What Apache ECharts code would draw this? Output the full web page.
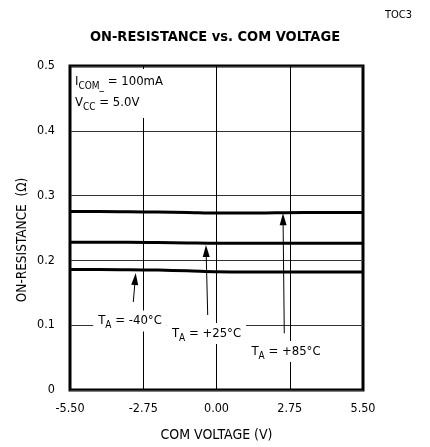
<!DOCTYPE html>
<html>
<head>
<meta charset="utf-8">
<script src="https://cdn.jsdelivr.net/npm/echarts@6/dist/echarts.min.js"></script>
<style>html,body{margin:0;padding:0;background:#fff}#c{width:430px;height:447px}</style>
</head>
<body>
<div id="c"></div>
<script>
const FONT = '"DejaVu Sans Condensed",sans-serif';
const comVoltage = [-5.5, -4.4, -3.3, -2.2, -1.1, 0, 1.1, 2.2, 3.3, 4.4, 5.5];
const ronMinus40 = [0.186, 0.186, 0.1855, 0.185, 0.184, 0.1825, 0.182, 0.182, 0.182, 0.182, 0.182];
const ronPlus25  = [0.228, 0.228, 0.228, 0.2275, 0.227, 0.2265, 0.2265, 0.2265, 0.2265, 0.2265, 0.2265];
const ronPlus85  = [0.2755, 0.2755, 0.275, 0.2745, 0.274, 0.273, 0.273, 0.2735, 0.274, 0.274, 0.274];
const xTickLabels = ['-5.50', '-2.75', '0.00', '2.75', '5.50'];
const yTickLabels = ['0', '0.1', '0.2', '0.3', '0.4', '0.5'];
const tempLabels = ['-40°C', '+25°C', '+85°C'];
// annotation anchors (data units)
const labelAnchors = [[-3.247, 0.1065], [-0.375, 0.0872], [2.609, 0.0594]];
const arrowFrom = [[-3.124, 0.1358], [-0.330, 0.1157], [2.545, 0.0875]];
const arrowTo = [[-3.052, 0.1713], [-0.390, 0.2145], [2.499, 0.2634]];

const rich = {
  m: { fontSize: 13, lineHeight: 21, fontFamily: FONT, color: '#000' },
  s: { fontSize: 10, lineHeight: 10, padding: [9, 0, 0, 0], fontFamily: FONT, color: '#000' }
};
function toPairs(xs, ys) { return xs.map((x, i) => [x, ys[i]]); }

const chart = echarts.init(document.getElementById('c'), null, { renderer: 'canvas' });
const lineSeries = (name, vals) => ({
  name, type: 'line', data: toPairs(comVoltage, vals), showSymbol: false, symbol: 'none',
  smooth: 0.3, lineStyle: { color: '#000', width: 3 }, z: 3, silent: true
});
const s1 = lineSeries('-40', ronMinus40);
s1.markLine = {
  silent: true, symbol: ['none', 'path://M3.5,0L7,12L0,12Z'], symbolSize: 12, symbolKeepAspect: true,
  label: { show: false }, lineStyle: { color: '#000', width: 1, type: 'solid' },
  itemStyle: { color: '#000' },
  data: arrowFrom.map((f, i) => [{ coord: f }, { coord: arrowTo[i] }])
};
s1.markPoint = {
  silent: true, symbol: 'circle', symbolSize: 0, itemStyle: { color: 'rgba(0,0,0,0)' },
  label: {
    show: true, position: 'inside', backgroundColor: '#fff', padding: [0, 5, 0, 5],
    rich: rich, formatter: p => '{m|T}{s|A}{m| = ' + p.name + '}'
  },
  data: labelAnchors.map((c, i) => ({ name: tempLabels[i], coord: c }))
};

chart.setOption({
  animation: false,
  backgroundColor: '#fff',
  title: {
    text: 'ON-RESISTANCE vs. COM VOLTAGE', left: 'center', top: 25,
    textStyle: { fontFamily: FONT, fontWeight: 'bold', fontSize: 14.5, color: '#000' }
  },
  grid: { left: 70, right: 67, top: 66, bottom: 57, show: true, borderColor: '#000', borderWidth: 3, backgroundColor: 'rgba(0,0,0,0)' },
  xAxis: {
    type: 'value', min: -5.5, max: 5.5, interval: 2.75,
    name: 'COM VOLTAGE (V)', nameLocation: 'middle', nameGap: 38,
    nameTextStyle: { fontFamily: FONT, fontSize: 14, color: '#000' },
    axisLine: { show: false }, axisTick: { show: false },
    axisLabel: { margin: 12, fontFamily: FONT, fontSize: 12.5, color: '#000',
      formatter: v => xTickLabels[Math.round((v + 5.5) / 2.75)] },
    splitLine: { show: true, lineStyle: { color: '#000', width: 1 } }
  },
  yAxis: {
    type: 'value', min: 0, max: 0.5, interval: 0.1,
    axisLine: { show: false }, axisTick: { show: false },
    axisLabel: { margin: 15, fontFamily: FONT, fontSize: 12.5, color: '#000',
      formatter: v => yTickLabels[Math.round(v * 10)] },
    splitLine: { show: true, lineStyle: { color: '#333', width: 1 } }
  },
  graphic: [
    { type: 'text', left: 385, top: 10, z: 100,
      style: { text: 'TOC3', fontFamily: FONT, fontSize: 11, fill: '#000' } },
    { type: 'text', x: 22, y: 240, rotation: Math.PI / 2, z: 100,
      style: { text: 'ON-RESISTANCE  (Ω)', fontFamily: FONT, fontSize: 13.5, fill: '#000', align: 'center', verticalAlign: 'middle' } },
    { type: 'text', left: 72, top: 69, z: 100,
      style: { text: '{m|I}{s|COM_}{m| = 100mA}\n{m|V}{s|CC}{m| = 5.0V}', rich: rich,
        backgroundColor: '#fff', padding: [2, 6, 5, 3] } }
  ],
  series: [s1, lineSeries('25', ronPlus25), lineSeries('85', ronPlus85)]
});
</script>
</body>
</html>
